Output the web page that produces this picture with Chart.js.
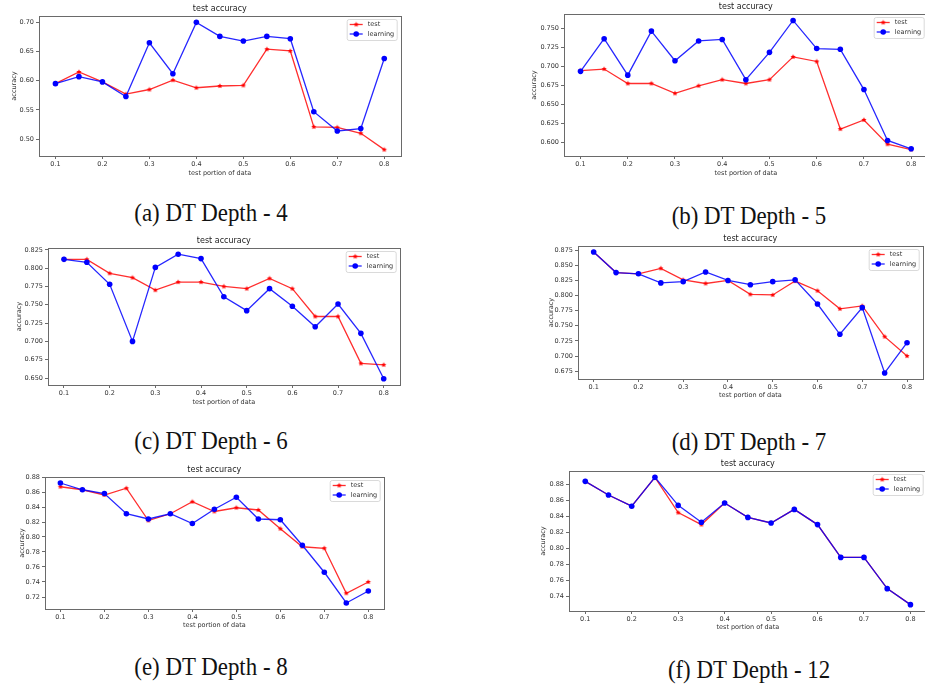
<!DOCTYPE html>
<html><head><meta charset="utf-8">
<script src="https://cdn.jsdelivr.net/npm/chart.js@4.4.1/dist/chart.umd.min.js"></script>
<style>
html,body{margin:0;padding:0;width:925px;height:688px;overflow:hidden;background:#fff;position:relative;}
canvas{position:absolute;}
.cap{position:absolute;font-family:"Liberation Serif","Times New Roman",serif;font-size:26px;line-height:26px;color:#111;white-space:nowrap;transform:translateX(-50%) scaleX(0.88);}
</style></head><body>
<script>
// ---------- data ----------
const portions = [0.1,0.15,0.2,0.25,0.3,0.35,0.4,0.45,0.5,0.55,0.6,0.65,0.7,0.75,0.8];
const xTickLabels = ["0.1","0.2","0.3","0.4","0.5","0.6","0.7","0.8"];

const testDepth4  = [0.595,0.615,0.598,0.577,0.585,0.601,0.588,0.591,0.592,0.654,0.651,0.521,0.520,0.510,0.482];
const learnDepth4 = [0.595,0.607,0.598,0.573,0.665,0.612,0.700,0.676,0.668,0.676,0.672,0.547,0.514,0.518,0.638];
const yLabelsDepth4 = ["0.50","0.55","0.60","0.65","0.70"];

const testDepth5  = [0.695,0.697,0.678,0.678,0.665,0.675,0.683,0.678,0.683,0.713,0.707,0.618,0.630,0.598,0.591];
const learnDepth5 = [0.694,0.737,0.689,0.747,0.708,0.734,0.736,0.683,0.719,0.761,0.724,0.723,0.670,0.603,0.592];
const yLabelsDepth5 = ["0.600","0.625","0.650","0.675","0.700","0.725","0.750"];

const testDepth6  = [0.812,0.812,0.793,0.787,0.770,0.781,0.781,0.775,0.772,0.786,0.772,0.734,0.734,0.670,0.668];
const learnDepth6 = [0.812,0.808,0.778,0.700,0.801,0.819,0.813,0.761,0.742,0.772,0.748,0.720,0.751,0.711,0.649];
const yLabelsDepth6 = ["0.650","0.675","0.700","0.725","0.750","0.775","0.800","0.825"];

const testDepth7  = [0.872,0.838,0.836,0.845,0.826,0.820,0.825,0.802,0.801,0.824,0.808,0.778,0.783,0.732,0.700];
const learnDepth7 = [0.872,0.838,0.836,0.821,0.823,0.839,0.825,0.818,0.823,0.826,0.786,0.736,0.780,0.672,0.722];
const yLabelsDepth7 = ["0.675","0.700","0.725","0.750","0.775","0.800","0.825","0.850","0.875"];

const testDepth8  = [0.867,0.863,0.856,0.865,0.822,0.831,0.847,0.834,0.839,0.836,0.811,0.787,0.785,0.725,0.740];
const learnDepth8 = [0.872,0.863,0.858,0.831,0.824,0.831,0.818,0.837,0.853,0.824,0.823,0.789,0.753,0.712,0.728];
const yLabelsDepth8 = ["0.72","0.74","0.76","0.78","0.80","0.82","0.84","0.86","0.88"];

const testDepth12  = [0.884,0.867,0.853,0.889,0.845,0.830,0.857,0.839,0.832,0.849,0.830,0.789,0.789,0.750,0.730];
const learnDepth12 = [0.884,0.867,0.853,0.889,0.854,0.833,0.857,0.839,0.832,0.849,0.830,0.789,0.789,0.750,0.730];
const yLabelsDepth12 = ["0.74","0.76","0.78","0.80","0.82","0.84","0.86","0.88"];

const seriesNames = ["test","learning"];
const chartTitle = "test accuracy";
const xAxisTitle = "test portion of data";
const yAxisTitle = "accuracy";
const captions = ["(a) DT Depth - 4","(b) DT Depth - 5","(c) DT Depth - 6","(d) DT Depth - 7","(e) DT Depth - 8","(f) DT Depth - 12"];

// ---------- layout / style ----------
const panels = [
  {test:testDepth4,  learn:learnDepth4,  yLabels:yLabelsDepth4,  plot:{l:39, t:16, r:403,b:156}, yTitleX:14,  xTitleY:173, capX:211, capB:222},
  {test:testDepth5,  learn:learnDepth5,  yLabels:yLabelsDepth5,  plot:{l:564,t:14, r:930,b:156}, yTitleX:534, xTitleY:173, capX:749, capB:225},
  {test:testDepth6,  learn:learnDepth6,  yLabels:yLabelsDepth6,  plot:{l:48, t:248,r:402,b:385}, yTitleX:19,  xTitleY:402, capX:211, capB:450},
  {test:testDepth7,  learn:learnDepth7,  yLabels:yLabelsDepth7,  plot:{l:578,t:246,r:925,b:379}, yTitleX:551, xTitleY:395, capX:749, capB:451},
  {test:testDepth8,  learn:learnDepth8,  yLabels:yLabelsDepth8,  plot:{l:45, t:477,r:386,b:609}, yTitleX:22,  xTitleY:625, capX:211, capB:676},
  {test:testDepth12, learn:learnDepth12, yLabels:yLabelsDepth12, plot:{l:569,t:471,r:929,b:611}, yTitleX:543, xTitleY:627, capX:749, capB:679}
];

const FONT = '"DejaVu Sans", "Liberation Sans", sans-serif';
const FS = 6.5, LH = 1.2;
const frameColor = '#6a6a6a', textColor = '#333';
const redLine = 'rgba(255,0,0,0.82)', blueLine = 'rgba(0,0,255,0.85)';

function starCanvas(r, color){
  const s = Math.ceil(r*2+2);
  const c = document.createElement('canvas'); c.width = c.height = s;
  const g = c.getContext('2d'); g.fillStyle = color; g.beginPath();
  for (let i=0;i<10;i++){
    const a = -Math.PI/2 + i*Math.PI/5, rr = (i%2) ? r*0.5 : r;
    g.lineTo(s/2 + rr*Math.cos(a), s/2 + rr*Math.sin(a));
  }
  g.closePath(); g.fill();
  return c;
}
const redStar = starCanvas(2.7, '#ff0000');

const deco = {
  id: 'deco',
  afterDraw(chart, args, o){
    const {ctx, chartArea:a} = chart;
    ctx.save();
    ctx.strokeStyle = frameColor; ctx.lineWidth = 1;
    ctx.strokeRect(Math.round(a.left)+0.5, Math.round(a.top)+0.5, Math.round(a.right-a.left), Math.round(a.bottom-a.top));
    ctx.fillStyle = '#222'; ctx.font = '8px ' + FONT;
    ctx.textAlign = 'center'; ctx.textBaseline = 'middle';
    ctx.fillText(o.title, (a.left+a.right)/2, a.top - 7);
    const bw = 50, bh = 21, bl = a.right - 4 - bw, bt = a.top + 3;
    ctx.fillStyle = 'rgba(255,255,255,0.85)'; ctx.strokeStyle = '#d0d0d0'; ctx.lineWidth = 0.8;
    ctx.beginPath();
    if (ctx.roundRect) ctx.roundRect(bl+0.5, bt+0.5, bw, bh, 2); else ctx.rect(bl+0.5, bt+0.5, bw, bh);
    ctx.fill(); ctx.stroke();
    chart.data.datasets.forEach((ds, i) => {
      const y = bt + 5.5 + i*9.5;
      ctx.strokeStyle = ds.borderColor; ctx.lineWidth = 1.3;
      ctx.beginPath(); ctx.moveTo(bl+3, y); ctx.lineTo(bl+16, y); ctx.stroke();
      if (ds.pointStyle instanceof HTMLCanvasElement) {
        ctx.drawImage(ds.pointStyle, bl+9.5 - ds.pointStyle.width/2, y - ds.pointStyle.height/2);
      } else {
        ctx.fillStyle = ds.pointBackgroundColor;
        ctx.beginPath(); ctx.arc(bl+9.5, y, ds.pointRadius, 0, Math.PI*2); ctx.fill();
      }
      ctx.fillStyle = textColor; ctx.font = FS + 'px ' + FONT;
      ctx.textAlign = 'left'; ctx.textBaseline = 'middle';
      ctx.fillText(ds.label, bl+21, y);
    });
    ctx.restore();
  }
};

function makePanel(p){
  const yW = 40, xH = 30, padT = 20, padR = 3;
  const cl = p.plot.l - yW, ct = p.plot.t - padT;
  const cw = (p.plot.r - cl) + padR, ch = (p.plot.b - ct) + xH;
  const cv = document.createElement('canvas');
  cv.width = cw; cv.height = ch;
  cv.style.left = cl + 'px'; cv.style.top = ct + 'px';
  cv.style.width = cw + 'px'; cv.style.height = ch + 'px';
  document.body.appendChild(cv);

  const all = p.test.concat(p.learn);
  const lo = Math.min(...all), hi = Math.max(...all), m = (hi-lo)*0.05;
  const xm = (portions[portions.length-1]-portions[0])*0.05;
  const yTickVals = p.yLabels.map(Number);
  const xTickVals = xTickLabels.map(Number);
  const lhPx = FS*LH;

  new Chart(cv, {
    type: 'line',
    data: {
      datasets: [
        {label: seriesNames[0], order: 1, data: portions.map((x,i)=>({x, y:p.test[i]})),
         borderColor: redLine, borderWidth: 1.3, pointStyle: redStar, pointRadius: 3,
         pointBackgroundColor: '#ff0000', tension: 0, fill: false},
        {label: seriesNames[1], order: 0, data: portions.map((x,i)=>({x, y:p.learn[i]})),
         borderColor: blueLine, borderWidth: 1.3, pointStyle: 'circle', pointRadius: 2.8,
         pointBackgroundColor: '#0000ff', pointBorderWidth: 0, tension: 0, fill: false}
      ]
    },
    options: {
      responsive: false, animation: false, devicePixelRatio: 1,
      layout: {padding: {left: 0, top: padT, right: padR, bottom: 0}},
      plugins: {legend: {display: false}, title: {display: false}, tooltip: {enabled: false},
                deco: {title: chartTitle}},
      scales: {
        x: {
          type: 'linear', min: portions[0]-xm, max: portions[portions.length-1]+xm,
          afterBuildTicks: s => { s.ticks = xTickVals.map(v => ({value: v})); },
          afterFit: s => { s.height = xH; },
          ticks: {autoSkip: false, maxRotation: 0, padding: 1.5, color: textColor,
                  font: {family: FONT, size: FS, lineHeight: LH},
                  callback: (v) => xTickLabels[xTickVals.indexOf(v)] ?? ''},
          grid: {drawOnChartArea: false, drawTicks: true, tickLength: 3, color: frameColor},
          border: {display: false},
          title: {display: true, text: xAxisTitle, color: textColor,
                  font: {family: FONT, size: FS, lineHeight: LH},
                  padding: {top: 0, bottom: (ct + ch) - p.xTitleY - lhPx/2}}
        },
        y: {
          type: 'linear', min: lo - m, max: hi + m,
          afterBuildTicks: s => { s.ticks = yTickVals.map(v => ({value: v})); },
          afterFit: s => { s.width = yW; },
          ticks: {autoSkip: false, padding: 2, color: textColor,
                  font: {family: FONT, size: FS, lineHeight: LH},
                  callback: (v) => p.yLabels[yTickVals.indexOf(v)] ?? ''},
          grid: {drawOnChartArea: false, drawTicks: true, tickLength: 3, color: frameColor},
          border: {display: false},
          title: {display: true, text: yAxisTitle, color: textColor,
                  font: {family: FONT, size: FS, lineHeight: LH},
                  padding: {top: (p.yTitleX - cl) - lhPx/2, bottom: 0}}
        }
      }
    },
    plugins: [deco]
  });
}

panels.forEach((p, i) => {
  makePanel(p);
  const d = document.createElement('div');
  d.className = 'cap';
  d.textContent = captions[i];
  d.style.left = p.capX + 'px';
  d.style.top = (p.capB - 21.8) + 'px';
  document.body.appendChild(d);
});
</script>
</body></html>
